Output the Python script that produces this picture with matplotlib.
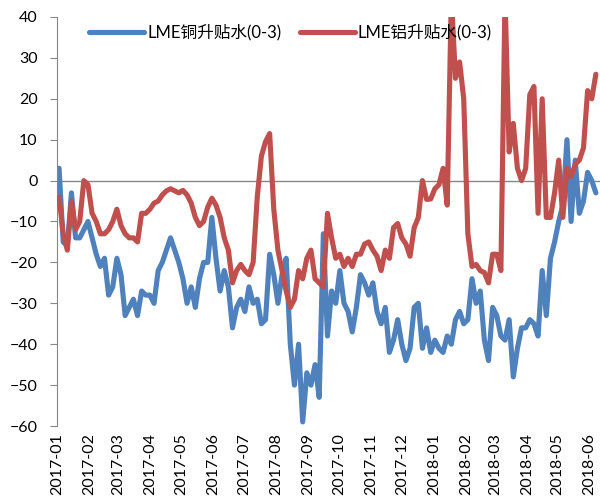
import matplotlib
matplotlib.use("Agg")
import matplotlib.pyplot as plt
import matplotlib.dates as mdates
import pandas as pd

plt.rcParams['font.family'] = ['Lato', 'Noto Sans CJK SC', 'DejaVu Sans']

# LME 0-3 month spreads, one reading every 4 days from 2017-01-03
copper = [3, -15, -16, -3, -14, -14, -12, -10, -14, -18,
          -21, -19, -28, -26, -19, -23, -33, -31, -29, -33,
          -27, -28, -28, -30, -22, -20, -17, -14, -17, -20,
          -24, -30, -26, -31, -24, -20, -20, -9, -19, -27,
          -22, -26, -36, -31, -29, -32, -26, -30, -29, -35,
          -34, -18, -23, -30, -23, -19, -40, -50, -40, -59,
          -47, -50, -45, -53, -13, -38, -27, -30, -22, -30,
          -32, -37, -31, -23, -25, -28, -25, -32, -35, -31,
          -42, -39, -34, -40, -44, -41, -31, -30, -41, -36,
          -42, -39, -41, -42, -38, -40, -34, -32, -35, -34,
          -24, -30, -27, -39, -44, -31, -33, -38, -39, -34,
          -48, -41, -36, -36, -34, -35, -38, -22, -33, -19,
          -15, -10, -6, 10, -10, 5, -8, -5, 2, 0,
          -3]
aluminium = [-4, -13, -17, -5, -12, -10, 0, -1, -8, -10,
             -13, -13, -12, -10, -7, -11, -13, -14, -14, -15,
             -8, -8, -7, -5.5, -5, -3.5, -2.5, -2, -2.5, -3,
             -2.4, -3.5, -5.5, -9, -11, -10, -6.5, -4.3, -6, -9,
             -14, -17, -25, -22, -20.5, -22, -23, -20, -4, 6,
             9.5, 11.5, -7, -17, -22, -27, -31, -29, -22, -24,
             -19, -17, -24, -25, -26, -8, -14, -19, -18, -21,
             -19, -21, -18, -18, -15.5, -15, -17, -18.5, -22, -17,
             -19, -11.5, -10.5, -14, -15.5, -18.5, -11.5, -9, 0, -4.6,
             -4.5, -2, -1, 3, -6, 45, 25, 29, 20, -13,
             -21, -20.5, -22, -22.5, -25, -18, -18, -22, 45, 7,
             14, 3, 0, 3, 21, 23, -8, 20, -9, -9,
             -3, 5, -9, 3, 1, 4, 5, 8, 22, 20,
             26]
dates = pd.date_range('2017-01-03', periods=len(copper), freq='4D')

yticks = list(range(-60, 41, 10))

fig = plt.figure(figsize=(6.0, 5.01), dpi=100)
ax = fig.add_axes([0.095, 0.1497, 0.905, 0.8164])

ax.axhline(0, color='#868686', lw=1.0, zorder=1)
ax.plot(dates, copper, color='#4F81BD', lw=3.7, label='LME铜升贴水(0-3)',
        solid_joinstyle='round', solid_capstyle='round', zorder=2)
ax.plot(dates, aluminium, color='#C0504D', lw=3.7, label='LME铝升贴水(0-3)',
        solid_joinstyle='round', solid_capstyle='round', zorder=3)

ax.set_ylim(-60, 40)
ax.set_yticks(yticks)
ax.set_xlim(pd.Timestamp('2017-01-01'), pd.Timestamp('2018-06-11'))
ax.xaxis.set_major_locator(mdates.MonthLocator())
ax.xaxis.set_major_formatter(mdates.DateFormatter('%Y-%m'))

for side in ('top', 'right', 'bottom'):
    ax.spines[side].set_visible(False)
ax.spines['left'].set_color('#868686')
ax.tick_params(axis='y', length=5, color='#868686', labelsize=11.5, pad=9)
ax.tick_params(axis='x', length=0, labelsize=11.5, labelrotation=90, pad=5)

ax.legend(loc='center', bbox_to_anchor=(0.43, 0.963), ncol=2, frameon=False,
          fontsize=12, handlelength=3.3, handletextpad=0.2,
          columnspacing=1.1)

fig.savefig('out.png', dpi=100)
